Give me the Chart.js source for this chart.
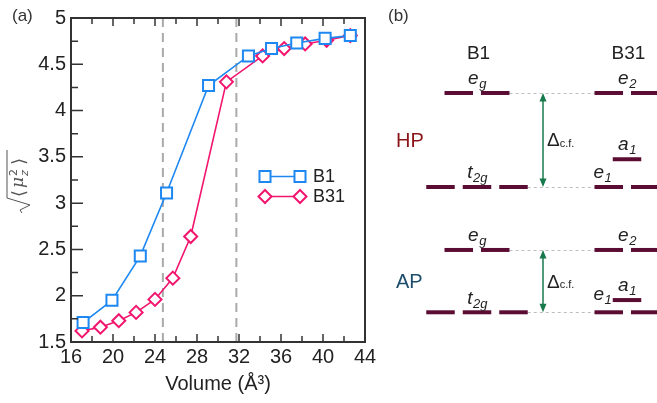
<!DOCTYPE html>
<html>
<head>
<meta charset="utf-8">
<script src="https://cdn.jsdelivr.net/npm/chart.js@4.4.0/dist/chart.umd.min.js"></script>
<style>
  body { margin: 0; background: #fff; }
  #wrap { position: relative; width: 657px; height: 403px; overflow: hidden; }
  #chartA { position: absolute; left: 0; top: 0; }
  #chartB { position: absolute; left: 380px; top: 0; }
</style>
</head>
<body>
<div id="wrap">
  <canvas id="chartA" width="380" height="403"></canvas>
  <canvas id="chartB" width="277" height="403"></canvas>
</div>
<script>
// ---- panel (a) data ----
const b1Volume = [17.15, 19.9, 22.6, 25.1, 29.1, 32.9, 35.1, 37.5, 40.2, 42.6];
const b1Moment = [1.71, 1.95, 2.43, 3.11, 4.27, 4.59, 4.67, 4.73, 4.78, 4.81];
const b31Volume = [17.05, 18.8, 20.55, 22.2, 24.0, 25.7, 27.4, 30.8, 34.25, 36.3, 38.3, 40.35, 42.6];
const b31Moment = [1.62, 1.66, 1.73, 1.82, 1.96, 2.19, 2.64, 4.31, 4.59, 4.67, 4.72, 4.76, 4.81];
const transitionVolumes = [24.75, 31.75];
const xTickValues = [16, 20, 24, 28, 32, 36, 40, 44];
const yTickValues = [1.5, 2, 2.5, 3, 3.5, 4, 4.5, 5];

// ---- panel (b) data ----
const columnNames = ['B1', 'B31'];
const columnX = [97, 247];
const blockNames = ['HP', 'AP'];
const blockColors = ['#8a1419', '#1d4d6c'];
const blockBase = [1.333, 0];
const b1Levels = ['t2g', 'eg'];
const b1Degeneracy = [3, 2];
const b31Levels = ['e1', 'a1', 'e2'];
const b31Degeneracy = [2, 1, 2];
const b1Energy = [[0, 1.0], [0, 0.663]];          // HP, AP
const b31Energy = [[0, 0.295, 1.0], [0, 0.13, 0.663]];

const blue = '#1e88f2';
const pink = '#f2156e';
const axisColor = '#333';
const sans = '"Liberation Sans", Arial, sans-serif';

// ---------- panel (a) ----------
function drawYLabel(ctx) {
  ctx.save();
  ctx.translate(20, 182);
  ctx.rotate(-Math.PI / 2);
  ctx.strokeStyle = '#555';
  ctx.fillStyle = '#555';
  ctx.lineWidth = 1;
  ctx.beginPath();
  ctx.moveTo(-31, 2);
  ctx.lineTo(-28, 0);
  ctx.lineTo(-23, 10);
  ctx.lineTo(-16, -13);
  ctx.lineTo(32, -13);
  ctx.stroke();
  ctx.textBaseline = 'alphabetic';
  ctx.font = '18px "DejaVu Sans"';
  ctx.fillText('\u27E8', -15, 5);
  ctx.font = 'italic 17px "DejaVu Serif"';
  ctx.fillText('\u03BC', -6, 3);
  ctx.font = '11px "DejaVu Sans"';
  ctx.fillText('2', 6, -3);
  ctx.font = 'italic 11px "DejaVu Sans"';
  ctx.fillText('z', 6, 8);
  ctx.font = '18px "DejaVu Sans"';
  ctx.fillText('\u27E9', 17, 5);
  ctx.restore();
}

const panelAPlugin = {
  id: 'panelA',
  beforeDatasetsDraw(chart) {
    const { ctx, chartArea: a, scales: { x } } = chart;
    ctx.save();
    ctx.strokeStyle = '#aaaaaa';
    ctx.lineWidth = 2;
    ctx.setLineDash([9, 6]);
    transitionVolumes.forEach(v => {
      const px = x.getPixelForValue(v);
      ctx.beginPath();
      ctx.moveTo(px, a.top);
      ctx.lineTo(px, a.bottom);
      ctx.stroke();
    });
    ctx.restore();
  },
  afterDraw(chart) {
    const { ctx, chartArea: a, scales: { x, y } } = chart;
    ctx.save();
    // frame
    ctx.strokeStyle = axisColor;
    ctx.lineWidth = 2;
    ctx.strokeRect(a.left, a.top, a.right - a.left, a.bottom - a.top);
    // inward ticks
    ctx.lineWidth = 1.5;
    ctx.beginPath();
    for (let v = x.min; v <= x.max; v += 2) {
      const px = x.getPixelForValue(v);
      const len = v % 4 === 0 ? 8 : 6;
      ctx.moveTo(px, a.bottom); ctx.lineTo(px, a.bottom - len);
      ctx.moveTo(px, a.top); ctx.lineTo(px, a.top + len);
    }
    for (let v = y.min; v <= y.max + 1e-9; v += 0.25) {
      const py = y.getPixelForValue(v);
      const len = Math.abs(v * 2 - Math.round(v * 2)) < 1e-6 ? 12 : 7;
      ctx.moveTo(a.left, py); ctx.lineTo(a.left + len, py);
    }
    ctx.stroke();

    // legend
    const rows = [176.5, 196.5];
    chart.data.datasets.forEach((ds, i) => {
      const ly = rows[i];
      ctx.strokeStyle = ds.borderColor;
      ctx.lineWidth = ds.borderWidth;
      ctx.beginPath();
      ctx.moveTo(265, ly); ctx.lineTo(300, ly);
      ctx.stroke();
      ctx.fillStyle = '#fff';
      ctx.lineWidth = ds.pointBorderWidth;
      [265, 300].forEach(px => {
        Chart.helpers.drawPoint(ctx, { pointStyle: ds.pointStyle, radius: ds.pointRadius, borderWidth: ds.pointBorderWidth, rotation: 0 }, px, ly);
      });
      ctx.fillStyle = '#222';
      ctx.font = '18px ' + sans;
      ctx.textBaseline = 'middle';
      ctx.textAlign = 'left';
      ctx.fillText(ds.label, 313, ly + 1);
    });

    // panel tag
    ctx.fillStyle = '#333';
    ctx.font = '17px ' + sans;
    ctx.textBaseline = 'alphabetic';
    ctx.fillText('(a)', 12, 21);
    ctx.restore();
    drawYLabel(ctx);
  }
};

new Chart(document.getElementById('chartA'), {
  type: 'scatter',
  data: {
    datasets: [
      {
        label: 'B1',
        data: b1Volume.map((v, i) => ({ x: v, y: b1Moment[i] })),
        showLine: true,
        borderColor: blue,
        backgroundColor: '#fff',
        borderWidth: 1.6,
        pointStyle: 'rect',
        pointRadius: 7.8,
        pointBorderWidth: 2,
        pointBackgroundColor: '#fff',
        pointBorderColor: blue
      },
      {
        label: 'B31',
        data: b31Volume.map((v, i) => ({ x: v, y: b31Moment[i] })),
        showLine: true,
        borderColor: pink,
        backgroundColor: '#fff',
        borderWidth: 1.6,
        pointStyle: 'rectRot',
        pointRadius: 6.5,
        pointBorderWidth: 2,
        pointBackgroundColor: '#fff',
        pointBorderColor: pink
      }
    ]
  },
  options: {
    responsive: false,
    animation: false,
    layout: { padding: { top: 18, right: 15, left: 0, bottom: 0 } },
    plugins: { legend: { display: false }, tooltip: { enabled: false } },
    scales: {
      x: {
        type: 'linear',
        min: 16,
        max: 44,
        afterBuildTicks: s => { s.ticks = xTickValues.map(v => ({ value: v })); },
        afterFit: s => { s.height = 61; },
        grid: { display: false, drawTicks: false },
        border: { display: false },
        ticks: { autoSkip: false, maxRotation: 0, padding: 3, color: '#222', font: { family: sans, size: 20 }, callback: v => String(v) },
        title: { display: true, text: 'Volume (\u00C5\u00B3)', color: '#222', font: { family: sans, size: 20 }, padding: { top: 0, bottom: 7 } }
      },
      y: {
        type: 'linear',
        min: 1.5,
        max: 5,
        afterBuildTicks: s => { s.ticks = yTickValues.map(v => ({ value: v })); },
        afterFit: s => { s.width = 71; },
        grid: { display: false, drawTicks: false },
        border: { display: false },
        ticks: { autoSkip: false, padding: 5, color: '#222', font: { family: sans, size: 20 }, callback: v => String(v) }
      }
    }
  },
  plugins: [panelAPlugin]
});

// ---------- panel (b) ----------
const segW = 28.5, segGap = 8;
const levelColor = '#5b0c33';

function segmentsFor(cx, e, n) {
  const total = n * segW + (n - 1) * segGap;
  const out = [];
  for (let k = 0; k < n; k++) {
    const x0 = cx - total / 2 + k * (segW + segGap);
    out.push([{ x: x0, y: e }, { x: x0 + segW, y: e }]);
  }
  return out;
}

const levelDatasets = [];
blockNames.forEach((b, bi) => {
  b1Energy[bi].forEach((e, li) => {
    segmentsFor(columnX[0], blockBase[bi] + e, b1Degeneracy[li]).forEach(seg => levelDatasets.push(seg));
  });
  b31Energy[bi].forEach((e, li) => {
    segmentsFor(columnX[1], blockBase[bi] + e, b31Degeneracy[li]).forEach(seg => levelDatasets.push(seg));
  });
});

function levelSpan(cx, n) {
  const total = n * segW + (n - 1) * segGap;
  return [cx - total / 2, cx + total / 2];
}

function drawSubLabel(ctx, base, sub, cx, baseline, align) {
  ctx.font = 'italic 19px ' + sans;
  const wb = ctx.measureText(base).width;
  ctx.font = 'italic 13px ' + sans;
  const ws = ctx.measureText(sub).width;
  const left = align === 'left' ? cx : cx - (wb + ws) / 2;
  ctx.textAlign = 'left';
  ctx.textBaseline = 'alphabetic';
  ctx.font = 'italic 19px ' + sans;
  ctx.fillText(base, left, baseline);
  ctx.font = 'italic 13px ' + sans;
  ctx.fillText(sub, left + wb + 0.5, baseline + 4);
}

const b31LabelLift = [[9, 9, 9], [12, 9, 9]];

const panelBPlugin = {
  id: 'panelB',
  beforeDatasetsDraw(chart) {
    const { ctx, scales: { x, y } } = chart;
    ctx.save();
    ctx.strokeStyle = '#bdbdbd';
    ctx.lineWidth = 1;
    ctx.setLineDash([3, 3]);
    blockNames.forEach((b, bi) => {
      [[0, 0], [1, 2]].forEach(([i1, i31]) => {
        const e = blockBase[bi] + b1Energy[bi][i1];
        const from = levelSpan(columnX[0], b1Degeneracy[i1])[1];
        const to = levelSpan(columnX[1], b31Degeneracy[i31])[0];
        const py = Math.round(y.getPixelForValue(e)) + 0.5;
        ctx.beginPath();
        ctx.moveTo(x.getPixelForValue(from), py);
        ctx.lineTo(x.getPixelForValue(to), py);
        ctx.stroke();
      });
    });
    ctx.restore();
  },
  afterDraw(chart) {
    const { ctx, scales: { x, y } } = chart;
    const arrowX = x.getPixelForValue(163);
    ctx.save();
    ctx.fillStyle = '#333';
    ctx.font = '17px ' + sans;
    ctx.textBaseline = 'alphabetic';
    ctx.fillText('(b)', 8, 21);

    // column headers
    const topY = y.getPixelForValue(blockBase[0] + b1Energy[0][1]);
    ctx.fillStyle = '#222';
    ctx.font = '19px ' + sans;
    ctx.textAlign = 'center';
    columnNames.forEach((c, ci) => ctx.fillText(c, x.getPixelForValue(columnX[ci]) + 1.5, topY - 33.5));

    blockNames.forEach((b, bi) => {
      const yTop = y.getPixelForValue(blockBase[bi] + b1Energy[bi][1]);
      const yBot = y.getPixelForValue(blockBase[bi] + b1Energy[bi][0]);
      const mid = (yTop + yBot) / 2;

      // block name
      ctx.fillStyle = blockColors[bi];
      ctx.font = '20px ' + sans;
      ctx.textAlign = 'left';
      ctx.textBaseline = 'alphabetic';
      ctx.fillText(b, 16, mid + 7);

      // crystal-field arrow
      ctx.strokeStyle = '#18794c';
      ctx.fillStyle = '#18794c';
      ctx.lineWidth = 1.5;
      ctx.beginPath();
      ctx.moveTo(arrowX, yTop + 6);
      ctx.lineTo(arrowX, yBot - 6);
      ctx.stroke();
      ctx.beginPath();
      ctx.moveTo(arrowX, yTop); ctx.lineTo(arrowX - 3.5, yTop + 8.5); ctx.lineTo(arrowX + 3.5, yTop + 8.5); ctx.closePath();
      ctx.moveTo(arrowX, yBot); ctx.lineTo(arrowX - 3.5, yBot - 8.5); ctx.lineTo(arrowX + 3.5, yBot - 8.5); ctx.closePath();
      ctx.fill();

      ctx.fillStyle = '#222';
      ctx.font = '19px ' + sans;
      ctx.fillText('\u0394', arrowX + 4, mid + 6.5);
      const wd = ctx.measureText('\u0394').width;
      ctx.font = '11px ' + sans;
      ctx.fillText('c.f.', arrowX + 4 + wd, mid + 7);

      // level labels
      b1Levels.forEach((name, li) => {
        const py = y.getPixelForValue(blockBase[bi] + b1Energy[bi][li]);
        drawSubLabel(ctx, name[0], name.slice(1), x.getPixelForValue(columnX[0]), py - 8.5);
      });
      b31Levels.forEach((name, li) => {
        const py = y.getPixelForValue(blockBase[bi] + b31Energy[bi][li]);
        const lift = b31LabelLift[bi][li];
        if (name === 'e1') {
          const left = levelSpan(columnX[1], b31Degeneracy[li])[0];
          drawSubLabel(ctx, name[0], name.slice(1), x.getPixelForValue(left) - 1, py - lift, 'left');
        } else {
          drawSubLabel(ctx, name[0], name.slice(1), x.getPixelForValue(columnX[1]), py - lift);
        }
      });
    });
    ctx.restore();
  }
};

new Chart(document.getElementById('chartB'), {
  type: 'scatter',
  data: {
    datasets: levelDatasets.map(seg => ({
      data: seg,
      showLine: true,
      borderColor: levelColor,
      borderWidth: 4,
      borderCapStyle: 'butt',
      pointRadius: 0
    }))
  },
  options: {
    responsive: false,
    animation: false,
    layout: { padding: 0 },
    plugins: { legend: { display: false }, tooltip: { enabled: false } },
    scales: {
      x: { type: 'linear', min: 0, max: 277, display: false },
      y: { type: 'linear', min: -0.965, max: 3.322, display: false }
    }
  },
  plugins: [panelBPlugin]
});
</script>
</body>
</html>
